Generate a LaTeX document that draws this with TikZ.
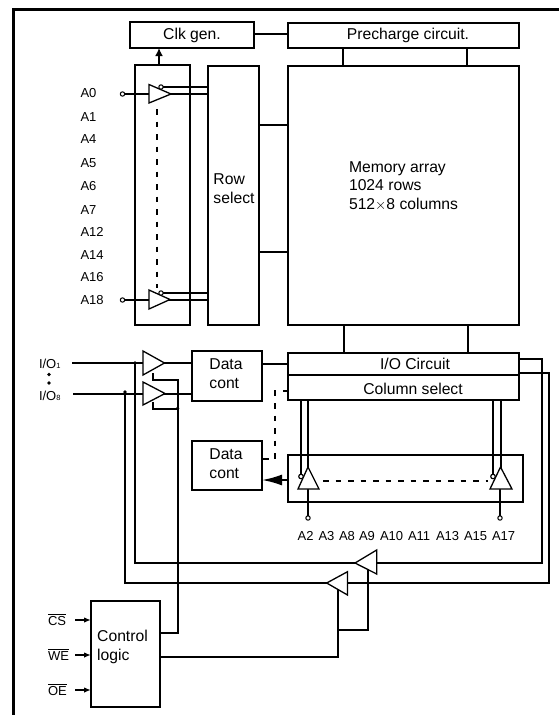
\documentclass[tikz,border=0pt]{standalone}
\usepackage{fontspec}
\setmainfont{Liberation Sans}
\usetikzlibrary{arrows.meta}
\newcommand{\bigtxt}{\fontsize{15.7}{18.7}\selectfont}
\newcommand{\smalltxt}{\fontsize{13}{15}\selectfont}
\newcommand{\subtxt}{\fontsize{7.5}{8}\selectfont}
\newcommand{\barred}[1]{$\overline{\hbox{#1}}$}
\newcommand{\tribuf}[6]{\draw[tribuf] (#1,#2) -- (#3,#4) -- (#5,#6) -- cycle;}
\tikzset{
  x=1pt,y=-1pt,
  wire/.style={line width=1.9pt,line cap=butt},
  dashwire/.style={wire,dash pattern=on 5.5pt off 7pt},
  box/.style={draw,line width=1.9pt,inner sep=0pt,outer sep=0pt,rectangle},
  tribuf/.style={draw,fill=white,line width=1.3pt,line join=miter},
  txt/.style={inner sep=0pt,outer sep=0pt,align=left,font=\bigtxt},
  addr/.style={inner sep=0pt,outer sep=0pt,anchor=base west,font=\smalltxt},
  pin/.style={circle,draw,fill=white,line width=1pt,minimum size=4.4pt,inner sep=0pt,outer sep=0pt},
  dot/.style={circle,fill=black,minimum size=3.6pt,inner sep=0pt,outer sep=0pt},
}
\begin{document}
\begin{tikzpicture}
\useasboundingbox (0,0) rectangle (559,715);
% outer frame
\draw[line width=3pt] (13.5,715) -- (13.5,9.5) -- (559,9.5);

% boxes
\node[box,minimum width=124pt,minimum height=26pt,label={[txt]center:Clk gen.}] (clk) at (192,35) {};
\node[box,minimum width=231pt,minimum height=25pt,label={[txt,xshift=4.5pt,yshift=0.5pt]center:Precharge circuit.}] (pre) at (403.5,35.5) {};
\node[box,minimum width=55pt,minimum height=260pt] (abuf) at (162.5,195) {};
\node[box,minimum width=51pt,minimum height=259pt,label={[txt,xshift=0.5pt,yshift=6.5pt]center:Row\\select}] (rows) at (233.5,195.5) {};
\node[box,minimum width=231pt,minimum height=259pt,label={[txt,yshift=9.5pt]center:Memory array\\1024 rows\\512$\times$8 columns}] (mem) at (403.5,195.5) {};
\node[box,minimum width=231pt,minimum height=22pt,label={[txt,xshift=11.5pt]center:I/O Circuit}] (io) at (403.5,364) {};
\node[box,minimum width=231pt,minimum height=25pt,label={[txt,xshift=9.5pt,yshift=-1pt]center:Column select}] (cols) at (403.5,387.5) {};
\node[box,minimum width=70pt,minimum height=50pt,label={[txt,xshift=-1pt,yshift=2.5pt]center:Data\\cont}] (dca) at (227,376) {};
\node[box,minimum width=70pt,minimum height=49pt,label={[txt,xshift=-1pt,yshift=2pt]center:Data\\cont}] (dcb) at (227,465.5) {};
\node[box,minimum width=235pt,minimum height=47pt] (cbuf) at (405.5,478.5) {};
\node[box,minimum width=69pt,minimum height=106pt,label={[txt,xshift=-3pt,yshift=7pt]center:Control\\logic}] (ctl) at (125.5,653.7) {};

% box-to-box connectors
\draw[wire] (clk.east |- 0,34) -- (pre.west |- 0,34);
\draw[wire] (343,0 |- pre.south) -- (343,0 |- mem.north);
\draw[wire] (467,0 |- pre.south) -- (467,0 |- mem.north);
\draw[wire] (rows.east |- 0,125) -- (mem.west |- 0,125);
\draw[wire] (rows.east |- 0,252) -- (mem.west |- 0,252);
\draw[wire] (344,0 |- mem.south) -- (344,0 |- io.north);
\draw[wire] (468,0 |- mem.south) -- (468,0 |- io.north);
\draw[wire,-{Latex[length=8pt,width=8pt]}] (159,0 |- abuf.north) -- (159,0 |- clk.south);
\draw[wire] (dca.east |- 0,364) -- (io.west |- 0,364);
\draw[dashwire] (cols.west |- 0,391) -- (275,391) -- (275,459) -- (dcb.east |- 0,459);
\draw[wire,-{Latex[length=20pt,width=11pt]}] (cbuf.west |- 0,480) -- (dcb.east |- 0,480);

% row address buffers
\node[pin] (pa0) at (122.5,94) {};
\node[pin] (pa18) at (122.5,300) {};
\coordinate (ra0) at (149,94);
\coordinate (ra18) at (149,300);
\draw[wire] (pa0) -- (ra0);
\draw[wire] (pa18) -- (ra18);
\draw[wire] (161,87) -- (rows.west |- 0,87);
\draw[wire] (161,94) -- (rows.west |- 0,94);
\draw[wire] (161,293) -- (rows.west |- 0,293);
\draw[wire] (161,300) -- (rows.west |- 0,300);
\tribuf{149}{84.5}{171}{94}{149}{103}
\tribuf{149}{290}{170}{299.5}{149}{309}
\node[pin] at (161,87) {};
\node[pin] at (161,293) {};
\draw[dashwire] (157,109) -- (157,288);

% column address buffers
\node[pin] (pa2) at (308,518) {};
\node[pin] (pa17) at (500,518) {};
\node[pin] (ca) at (301,476.5) {};
\node[pin] (cb) at (493,476.5) {};
\draw[wire] (301,0 |- cols.south) -- (ca);
\draw[wire] (308,0 |- cols.south) -- (308,470);
\draw[wire] (493,0 |- cols.south) -- (cb);
\draw[wire] (501,0 |- cols.south) -- (501,470);
\draw[wire] (pa2) -- (308,489);
\draw[wire] (pa17) -- (500,489);
\tribuf{308}{467}{319}{489}{298}{489}
\tribuf{500.5}{467}{512}{489}{490}{489}
\node[pin] at (301,476.5) {};
\node[pin] at (493,476.5) {};
\draw[dashwire] (323,481) -- (488,481);

% data in / out wiring
\coordinate (ioa) at (72,363);
\coordinate (iob) at (73,394);
\draw[wire] (ioa) -- (143,363);
\draw[wire] (iob) -- (143,394);
\draw[wire] (164,363) -- (dca.west |- 0,363);
\draw[wire] (164,394) -- (dca.west |- 0,394);
\draw[wire] (153,373) -- (153,380) -- (178,380) -- (178,633) -- (ctl.east |- 0,633);
\draw[wire] (153,402) -- (153,409) -- (178,409);
\draw[wire] (io.east |- 0,359) -- (542,359) -- (542,563) -- (135,563) -- (135,363);
\draw[wire] (io.east |- 0,373) -- (549,373) -- (549,583) -- (125,583) -- (125,392);
\draw[wire] (ctl.east |- 0,657) -- (338,657) -- (338,590);
\draw[wire] (338,630) -- (368,630) -- (368,570);
\node[dot] at (135,363) {};
\node[dot] at (125,392) {};
\node[dot] at (177.5,408.5) {};
\tribuf{143}{351}{164.5}{363}{143}{375}
\tribuf{143}{382}{165}{393.5}{143}{405}
\tribuf{355}{563}{376.7}{550}{376.7}{574}
\tribuf{326.7}{583}{347.5}{571.7}{347.5}{595}

% control inputs
\coordinate (ics) at (75,620);
\coordinate (iwe) at (75,655);
\coordinate (ioe) at (75,690);
\draw[wire,-{Latex[length=7pt,width=5.5pt]}] (ics) -- (ctl.west |- ics);
\draw[wire,-{Latex[length=7pt,width=5.5pt]}] (iwe) -- (ctl.west |- iwe);
\draw[wire,-{Latex[length=7pt,width=5.5pt]}] (ioe) -- (ctl.west |- ioe);
\node[addr] (lcs) at (48,625) {\barred{CS}};
\node[addr] (lwe) at (48,660) {\barred{WE}};
\node[addr] (loe) at (48,695) {\barred{OE}};

% I/O labels
\node[addr] (lio1) at (39,368.3) {I/O{\subtxt 1}};
\node[addr] (lio8) at (39,400) {I/O{\subtxt 8}};
\node[dot] (da) at (49,374.5) {};
\node[dot] (db) at (49,383) {};

% row address labels
\node[addr] (la0) at (80.5,97.5) {A0};
\node[addr] (la1) at (80.5,121) {A1};
\node[addr] (la4) at (80.5,143.7) {A4};
\node[addr] (la5) at (80.5,167.7) {A5};
\node[addr] (la6) at (80.5,190) {A6};
\node[addr] (la7) at (80.5,214) {A7};
\node[addr] (la12) at (80.5,236) {A12};
\node[addr] (la14) at (80.5,259) {A14};
\node[addr] (la16) at (80.5,281) {A16};
\node[addr] (la18) at (80.5,304.7) {A18};

% column address labels
\node[addr] (lc2) at (297.7,540) {A2};
\node[addr] (lc3) at (318.5,540) {A3};
\node[addr] (lc8) at (339,540) {A8};
\node[addr] (lc9) at (359,540) {A9};
\node[addr] (lc10) at (380,540) {A10};
\node[addr] (lc11) at (408,540) {A11};
\node[addr] (lc13) at (436,540) {A13};
\node[addr] (lc15) at (464,540) {A15};
\node[addr] (lc17) at (492,540) {A17};
\end{tikzpicture}
\end{document}
